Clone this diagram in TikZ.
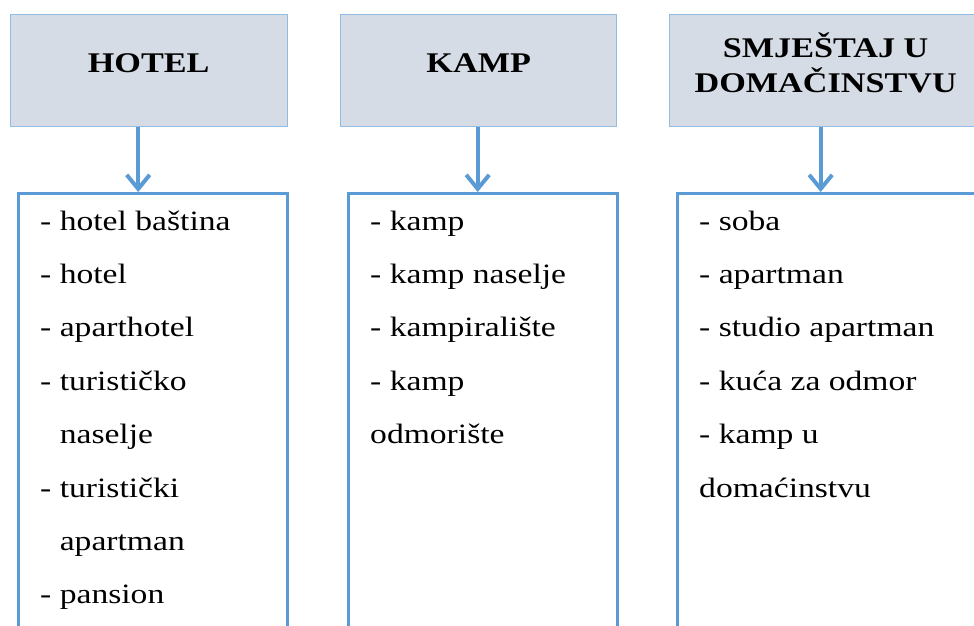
\documentclass[tikz,border=0pt]{standalone}
\usepackage{fontspec}
\setmainfont{Liberation Serif}[FakeStretch=1.2]
\usetikzlibrary{arrows.meta,positioning}
\definecolor{headfill}{RGB}{214,220,229}
\definecolor{headline}{RGB}{145,188,228}
\definecolor{boxblue}{RGB}{91,155,213}

\begin{document}
\begin{tikzpicture}[x=1pt,y=-1pt,
    >={Straight Barb[length=14pt,width=23pt]},
    head/.style={draw=headline,fill=headfill,line width=1.4pt,inner sep=0pt,
        minimum height=112pt,anchor=north west},
    title/.style={font=\fontsize{28.5}{35}\selectfont\bfseries,align=center},
    listbox/.style={draw=boxblue,line width=2.5pt,inner sep=0pt,
        minimum height=470pt,anchor=north west},
    item/.style={font=\fontsize{28}{34}\selectfont,anchor=base west,inner sep=0pt},
    link/.style={->,draw=boxblue,line width=4pt}]
    % page size
    \useasboundingbox (0,0) rectangle (974,625);
    \clip (0,0) rectangle (974,625);
    % draw the headers
    \node[head,minimum width=277pt] (hotel) at (9.5,13.5) {};
    \node[head,minimum width=276pt] (kamp) at (340,13.5) {};
    \node[head,minimum width=316pt] (smjestaj) at (669,13.5) {};
    \node[title] (hoteltitle) at ([yshift=7pt]hotel.center) {HOTEL};
    \node[title] (kamptitle) at ([yshift=7pt]kamp.center) {KAMP};
    \node[title] (smjestajtitle) at ([xshift=-2pt,yshift=7pt]smjestaj.center) {SMJEŠTAJ U\\DOMAČINSTVU};
    % draw the lists
    \node[listbox,minimum width=269pt] (hotellist) at (17,192) {};
    \node[listbox,minimum width=269pt] (kamplist) at (347,192) {};
    \node[listbox,minimum width=320pt] (smjestajlist) at (676,192) {};
    \foreach \a/\b/\s in {hotel/hotellist/-10.5,kamp/kamplist/-1,smjestaj/smjestajlist/-7}
        \draw[link] ([xshift=\s pt]\a.south) -- ([xshift=\s pt]\a.south |- \b.north);
    \foreach \t [count=\i] in {- hotel baština,- hotel,- aparthotel,- turističko,
            \phantom{- }naselje,- turistički,\phantom{- }apartman,- pansion}
        \node[item] (h\i) at (40,{230+(\i-1)*53.4}) {\t};
    \foreach \t [count=\i] in {- kamp,- kamp naselje,- kampiralište,- kamp,odmorište}
        \node[item] (k\i) at (370,{230+(\i-1)*53.4}) {\t};
    \foreach \t [count=\i] in {- soba,- apartman,- studio apartman,- kuća za odmor,
            - kamp u,domaćinstvu}
        \node[item] (s\i) at (699,{230+(\i-1)*53.4}) {\t};
\end{tikzpicture}
\end{document}
